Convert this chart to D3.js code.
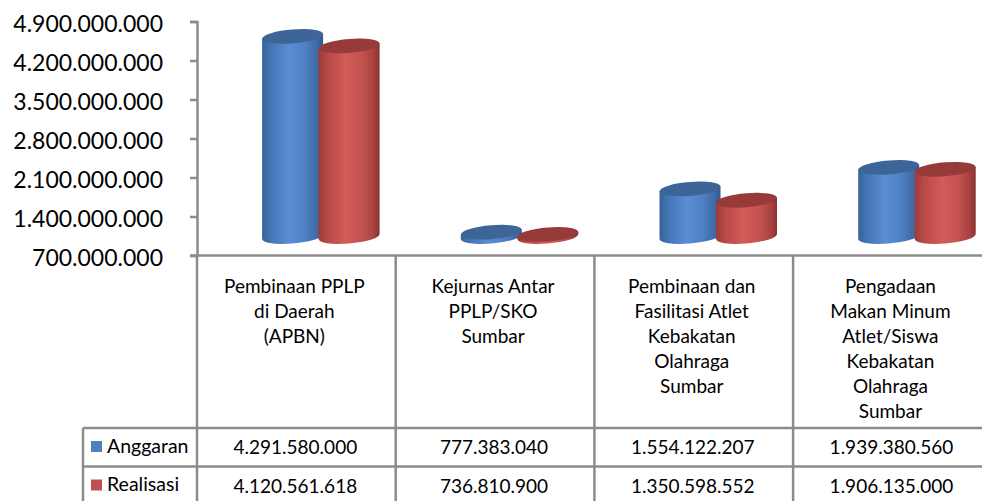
<!DOCTYPE html>
<html>
<head>
<meta charset="utf-8">
<script src="https://cdn.jsdelivr.net/npm/d3@7"></script>
<style>
  html, body { margin: 0; padding: 0; background: #ffffff; }
  svg { display: block; }
  text { font-family: Lato, "Open Sans", sans-serif; fill: #000; }
</style>
</head>
<body>
<svg id="chart" width="982" height="501"></svg>
<script>
// Program categories (multi-line labels in the data table header)
const categories = [
  "Pembinaan PPLP\ndi Daerah\n(APBN)",
  "Kejurnas Antar\nPPLP/SKO\nSumbar",
  "Pembinaan dan\nFasilitasi Atlet\nKebakatan\nOlahraga\nSumbar",
  "Pengadaan\nMakan Minum\nAtlet/Siswa\nKebakatan\nOlahraga\nSumbar"
];
const seriesNames = ["Anggaran", "Realisasi"];
const anggaran  = [4291580000, 777383040, 1554122207, 1939380560];
const realisasi = [4120561618, 736810900, 1350598552, 1906135000];
const yTicks = [700000000, 1400000000, 2100000000, 2800000000, 3500000000, 4200000000, 4900000000];

const seriesValues = [anggaran, realisasi];
const seriesColors = [
  { top: "#3e6597", stops: ["#37619a", "#4576b6", "#5a8dd3", "#4f81c3", "#3f6aa6", "#335a8c"], key: "#4f81bd" },
  { top: "#963b39", stops: ["#9c3b39", "#b84a47", "#d35b58", "#c55350", "#a84240", "#883230"], key: "#c0504d" }
];
const stopOffsets = [0, 0.15, 0.45, 0.7, 0.9, 1];

const idLocale = d3.formatLocale({ decimal: ",", thousands: ".", grouping: [3], currency: ["Rp", ""] });
const fmt = idLocale.format(",d");

const svg = d3.select("#chart");
const axisColor = "#8c8c8c";

// Plot geometry
const axisX = 197, yTop = 21.5, yBottom = 255.5;
const colW = 198.7;
const depthX = 24.5, depthY = -19;   // 3-D floor offset of the bars
const rx = 30.5, ry = 7;             // cylinder radius / ellipse half-height
const skewDeg = -4.5;

const y = d3.scaleLinear().domain([yTicks[0], yTicks[yTicks.length - 1]]).range([yBottom, yTop]);
const x = d3.scaleBand().domain(d3.range(categories.length)).range([axisX, axisX + colW * categories.length]);
const xs = d3.scaleBand().domain(d3.range(seriesNames.length)).range([-56.5, 56.5]);

// Gradients for cylinder bodies
const defs = svg.append("defs");
seriesColors.forEach((c, i) => {
  const g = defs.append("linearGradient").attr("id", "cyl" + i)
    .attr("x1", 0).attr("x2", 1).attr("y1", 0).attr("y2", 0);
  c.stops.forEach((s, k) => g.append("stop").attr("offset", stopOffsets[k]).attr("stop-color", s));
});

// Y axis
const yAxis = d3.axisLeft(y).tickValues(yTicks).tickFormat(fmt).tickSize(7).tickPadding(27);
const gy = svg.append("g").attr("transform", `translate(${axisX},0)`).call(yAxis);
gy.select(".domain").attr("stroke", axisColor).attr("stroke-width", 2.5);
gy.selectAll(".tick line").attr("stroke", axisColor).attr("stroke-width", 2.5);
gy.selectAll(".tick text").attr("font-size", 23).attr("font-family", "Lato, sans-serif")
  .attr("fill", "#000").attr("dy", "0.42em");

// Cylinders
const bars = svg.append("g");
seriesValues.forEach((vals, si) => {
  vals.forEach((v, ci) => {
    const cx = x(ci) + x.bandwidth() / 2 + depthX + xs(si) + xs.bandwidth() / 2;
    const yt = y(v) + depthY;
    const yb = y(yTicks[0]) + depthY;
    const g = bars.append("g")
      .attr("transform", `translate(${cx},0) skewY(${skewDeg}) translate(${-cx},0)`);
    g.append("path")
      .attr("d", `M${cx - rx},${yt} L${cx - rx},${yb} A${rx},${ry} 0 0 0 ${cx + rx},${yb} L${cx + rx},${yt} Z`)
      .attr("fill", `url(#cyl${si})`);
    g.append("ellipse")
      .attr("cx", cx).attr("cy", yt).attr("rx", rx).attr("ry", ry)
      .attr("fill", seriesColors[si].top);
  });
});

// Data table
const table = svg.append("g");
const headerBottom = 428, rowH = 38.5, legendLeft = 83;
const tableRight = axisX + colW * categories.length;
const rowsBottom = headerBottom + rowH * seriesNames.length;

const line = (x1, y1, x2, y2) => table.append("line")
  .attr("x1", x1).attr("y1", y1).attr("x2", x2).attr("y2", y2)
  .attr("stroke", axisColor).attr("stroke-width", 2.5);

// horizontal rules
line(axisX - 7, yBottom, tableRight, yBottom);
line(legendLeft, headerBottom, tableRight, headerBottom);
seriesNames.forEach((s, i) => line(legendLeft, headerBottom + rowH * (i + 1), tableRight, headerBottom + rowH * (i + 1)));
// vertical rules
line(legendLeft, headerBottom, legendLeft, rowsBottom);
d3.range(categories.length + 1).forEach(i => line(axisX + colW * i, yBottom, axisX + colW * i, rowsBottom));

// header labels
categories.forEach((c, ci) => {
  const t = table.append("text")
    .attr("text-anchor", "middle")
    .attr("font-size", 19);
  c.split("\n").forEach((ln, k) => {
    t.append("tspan").attr("x", x(ci) + x.bandwidth() / 2 - 2).attr("y", 292.5 + k * 25).text(ln);
  });
});

// series rows
seriesNames.forEach((s, si) => {
  const rowTop = headerBottom + rowH * si;
  table.append("rect")
    .attr("x", 91).attr("y", rowTop + 13).attr("width", 11).attr("height", 11)
    .attr("fill", seriesColors[si].key);
  table.append("text")
    .attr("x", 107).attr("y", rowTop + 24.5)
    .attr("font-size", 19.5).text(s);
  seriesValues[si].forEach((v, ci) => {
    table.append("text")
      .attr("x", x(ci) + x.bandwidth() / 2 - 1).attr("y", rowTop + 26)
      .attr("text-anchor", "middle").attr("font-size", 19)
      .text(fmt(v));
  });
});
</script>
</body>
</html>
